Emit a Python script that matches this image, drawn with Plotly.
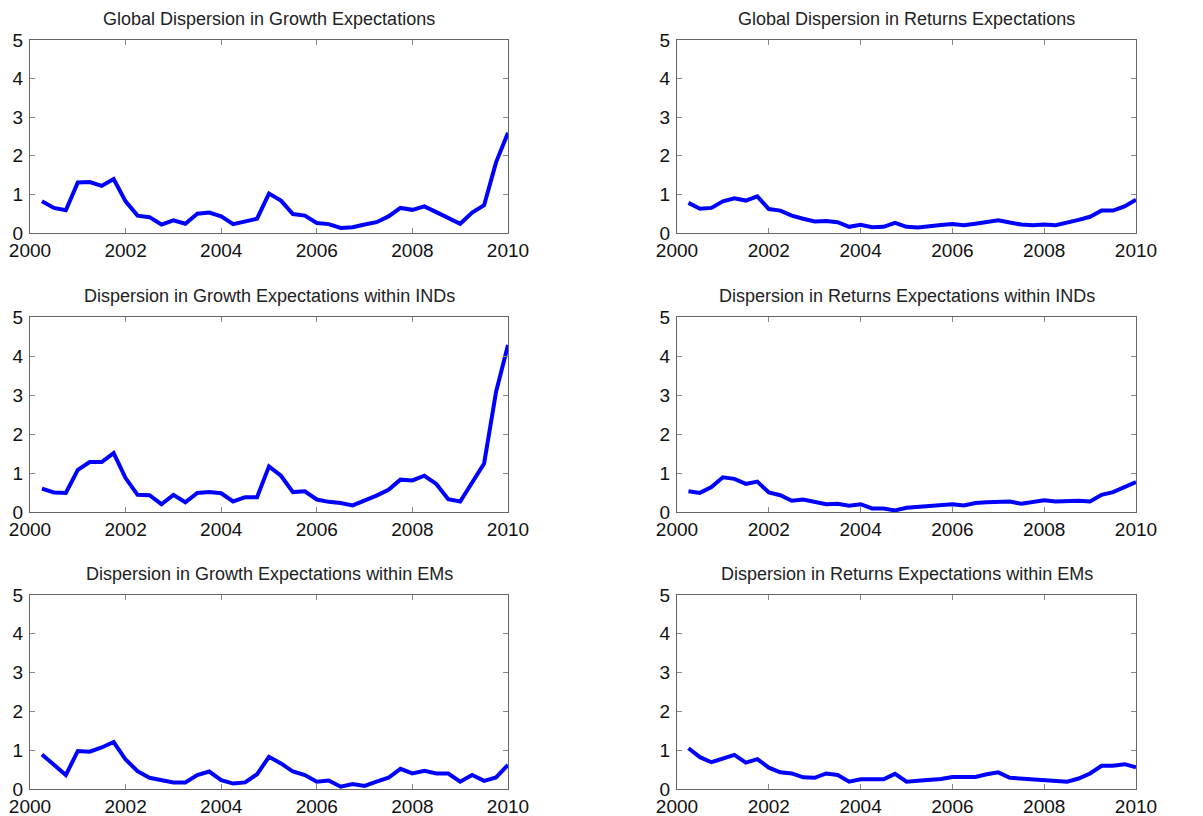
import plotly.graph_objects as go

quarters = [2000 + 0.25 * (i + 1) for i in range(40)]

global_growth = [0.82, 0.65, 0.59, 1.31, 1.32, 1.22, 1.40, 0.82, 0.45, 0.41,
                 0.22, 0.33, 0.24, 0.50, 0.53, 0.43, 0.23, 0.30, 0.37, 1.02,
                 0.84, 0.49, 0.45, 0.26, 0.23, 0.13, 0.15, 0.22, 0.28, 0.43,
                 0.65, 0.60, 0.69, 0.54, 0.39, 0.24, 0.53, 0.72, 1.83, 2.60]
global_returns = [0.78, 0.63, 0.65, 0.82, 0.90, 0.84, 0.95, 0.62, 0.58, 0.45,
                  0.37, 0.30, 0.31, 0.28, 0.16, 0.21, 0.15, 0.16, 0.26, 0.16,
                  0.14, 0.18, 0.21, 0.23, 0.20, 0.24, 0.28, 0.33, 0.27, 0.22,
                  0.20, 0.22, 0.20, 0.26, 0.34, 0.42, 0.58, 0.58, 0.69, 0.86]
inds_growth = [0.60, 0.50, 0.49, 1.08, 1.28, 1.28, 1.51, 0.87, 0.44, 0.43,
               0.20, 0.44, 0.25, 0.49, 0.51, 0.48, 0.27, 0.38, 0.38, 1.17,
               0.93, 0.51, 0.53, 0.32, 0.26, 0.23, 0.17, 0.29, 0.42, 0.57,
               0.83, 0.81, 0.93, 0.72, 0.33, 0.27, 0.74, 1.24, 3.08, 4.28]
inds_returns = [0.53, 0.49, 0.64, 0.89, 0.85, 0.72, 0.78, 0.50, 0.43, 0.29,
                0.32, 0.27, 0.20, 0.21, 0.16, 0.20, 0.09, 0.09, 0.04, 0.11,
                0.13, 0.17, 0.18, 0.20, 0.17, 0.23, 0.25, 0.27, 0.27, 0.21,
                0.25, 0.30, 0.27, 0.29, 0.29, 0.27, 0.44, 0.51, 0.64, 0.77]
ems_growth = [0.89, 0.62, 0.36, 0.98, 0.96, 1.07, 1.21, 0.76, 0.46, 0.29,
              0.22, 0.17, 0.17, 0.36, 0.45, 0.23, 0.14, 0.17, 0.38, 0.83,
              0.66, 0.45, 0.36, 0.19, 0.22, 0.06, 0.13, 0.08, 0.19, 0.29,
              0.52, 0.40, 0.47, 0.40, 0.40, 0.19, 0.36, 0.21, 0.30, 0.62]
ems_returns = [1.05, 0.82, 0.69, 0.79, 0.88, 0.68, 0.77, 0.55, 0.43, 0.40,
               0.30, 0.29, 0.40, 0.36, 0.19, 0.25, 0.25, 0.25, 0.39, 0.19,
               0.21, 0.23, 0.26, 0.31, 0.31, 0.31, 0.38, 0.43, 0.29, 0.27,
               0.23, 0.21, 0.21, 0.19, 0.27, 0.40, 0.60, 0.60, 0.64, 0.56]

titles = ["Global Dispersion in Growth Expectations",
          "Global Dispersion in Returns Expectations",
          "Dispersion in Growth Expectations within INDs",
          "Dispersion in Returns Expectations within INDs",
          "Dispersion in Growth Expectations within EMs",
          "Dispersion in Returns Expectations within EMs"]
series = [global_growth, global_returns, inds_growth, inds_returns, ems_growth, ems_returns]
x_ticks = [2000, 2002, 2004, 2006, 2008, 2010]
y_ticks = [0, 1, 2, 3, 4, 5]

# the page body adds an 8 px offset; figure coordinates are screen minus 8
W, H = 1195, 808
ML, MR, MT, MB = 22, 67, 32, 27
pw, ph = W - ML - MR, H - MT - MB

col_px = [(22, 500), (669, 1128)]
row_px = [(32, 225), (309, 504), (587, 781)]

def xd(a, b):
    return [(a - ML) / pw, (b - ML) / pw]

def yd(top, bot):
    return [1 - (bot - MT) / ph, 1 - (top - MT) / ph]

fig = go.Figure()
annotations = []
font_family = "Liberation Sans, Arial, sans-serif"

for i, (title, ys) in enumerate(zip(titles, series)):
    r, c = divmod(i, 2)
    n = i + 1
    xa = "x" if n == 1 else f"x{n}"
    ya = "y" if n == 1 else f"y{n}"
    fig.add_trace(go.Scatter(x=quarters, y=ys, mode="lines",
                             line=dict(color="#0000FF", width=4),
                             xaxis=xa, yaxis=ya, showlegend=False))
    axis_common = dict(showline=True, linecolor="#666666", linewidth=1, mirror="ticks",
                       ticks="inside", ticklen=5, tickcolor="#888888", tickwidth=1,
                       showgrid=False, zeroline=False, automargin=False,
                       tickfont=dict(family=font_family, size=19, color="#111111"))
    xdom = xd(*col_px[c])
    ydom = yd(*row_px[r])
    fig.update_layout(**{
        ("xaxis" if n == 1 else f"xaxis{n}"): dict(domain=xdom, range=[2000, 2010],
                                                     tickvals=x_ticks, anchor=ya,
                                                     ticklabelstandoff=0, **axis_common),
        ("yaxis" if n == 1 else f"yaxis{n}"): dict(domain=ydom, range=[0, 5],
                                                     tickvals=y_ticks, anchor=xa,
                                                     ticklabelstandoff=2, **axis_common),
    })
    annotations.append(dict(text=title, xref="paper", yref="paper",
                            x=(xdom[0] + xdom[1]) / 2, y=ydom[1],
                            yshift=9, xanchor="center", yanchor="bottom", showarrow=False,
                            font=dict(family=font_family, size=18, color="#222222")))

fig.update_layout(width=W, height=H, margin=dict(l=ML, r=MR, t=MT, b=MB, autoexpand=False),
                  paper_bgcolor="white", plot_bgcolor="white",
                  annotations=annotations)
fig.write_html("out.html")
